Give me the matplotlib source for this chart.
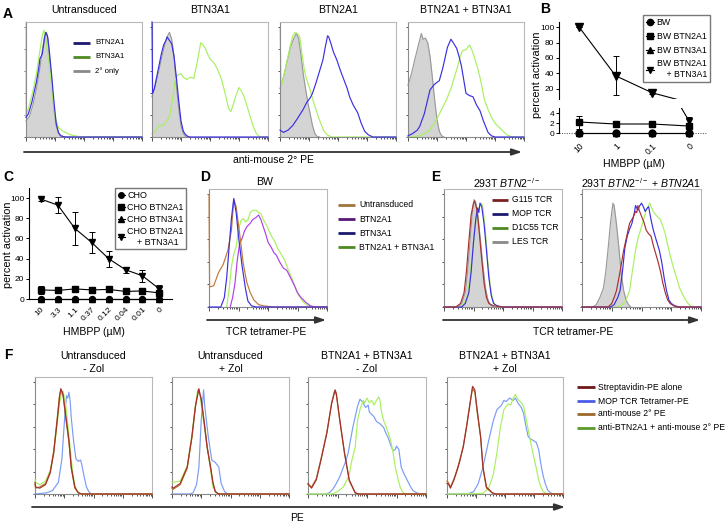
import matplotlib
matplotlib.use('Agg')
import matplotlib.pyplot as plt
import numpy as np
from matplotlib.lines import Line2D
from matplotlib.patches import FancyArrowPatch

plt.rcParams['font.family'] = ['Liberation Sans', 'DejaVu Sans']
plt.rcParams['mathtext.fontset'] = 'custom'
plt.rcParams['mathtext.rm'] = 'Liberation Sans'
plt.rcParams['mathtext.it'] = 'Liberation Sans:italic'

# ---------------- data: histogram curves (x: % of axis width, y: % of mode) ----------------
A1_2nd = [(0,14),(3,18),(6,28),(9,42),(12,60),(14,75),(16,88),(17.5,91),(19,85),(20,70),(22,50),(24,25),(26,10),(28,3),(30,1),(33,0),(100,0)]
A1_btn2a1 = [(0,17),(2,20),(5,30),(9,48),(11,60),(12,68),(14,72),(16,86),(17,91),(18.5,88),(20,76),(22,55),(24,32),(26,12),(28,4),(30,1),(34,0),(100,0)]
A1_btn3a1 = [(0,100),(0,18),(0.5,20),(3,28),(6,40),(9,55),(12,75),(14,88),(15.5,93),(17,85),(19,70),(21,55),(23,35),(25,18),(28,8),(32,5),(38,2),(45,0.5),(50,0),(100,0)]

A2_2nd = [(0,35),(3,45),(6,58),(9,72),(11,80),(13,87),(15,91),(17,85),(19,70),(21,45),(23,25),(25,10),(27,3),(29,0.5),(31,0)]
A2_btn2a1 = [(0,100),(0.5,38),(2,42),(4,52),(6,62),(8,72),(10,80),(12,84),(13,87),(15,84),(17,81),(19,70),(21,52),(23,32),(25,14),(27,5),(29,2),(31,0.5),(33,0),(100,0)]
A2_btn3a1 = [(0,3),(3,5),(6,10),(10,10),(14,16),(16,22),(18,35),(20,50),(22,54),(25,55),(27,52),(30,50),(33,52),(36,51),(39,65),(42,82),(44,80),(46,77),(48,72),(50,68),(53,65),(56,60),(60,50),(63,38),(66,25),(68,22),(70,28),(72,35),(75,43),(77,40),(79,36),(81,30),(84,20),(87,10),(90,3),(93,0),(100,0)]

A3_2nd = [(0,42),(3,52),(6,65),(9,78),(12,86),(14,90),(16,86),(18,72),(20,55),(22,42),(24,30),(26,20),(28,10),(30,3),(32,0.5),(34,0)]
A3_btn3a1 = [(0,94),(1,44),(3,52),(6,66),(9,80),(11,88),(13,91),(15,90),(17,87),(19,72),(21,58),(23,50),(26,41),(29,30),(32,21),(35,12),(38,5),(41,1.5),(45,0),(100,0)]
A3_btn2a1 = [(0,6),(3,4),(7,6),(11,10),(15,16),(20,24),(23,30),(26,34),(28,38),(31,47),(34,57),(37,67),(39,78),(41,88),(42,87),(44,81),(46,74),(49,67),(52,58),(55,50),(58,42),(60,35),(63,28),(67,21),(70,12),(73,5),(76,2),(80,0),(100,0)]

A4_2nd = [(0,45),(3,55),(6,68),(9,80),(11.5,90),(13,85),(15,86),(17,82),(19,70),(21,52),(23,32),(25,15),(27,5),(29,1),(31,0)]
A4_btn2a1 = [(0,1),(4,3),(8,6),(10,9),(14,20),(19,41),(23,46),(27,49),(30,60),(34,78),(37,85),(39,82),(42,77),(44,70),(46,62),(48,50),(50,38),(53,36),(56,35),(59,28),(62,23),(65,14),(69,4),(72,1),(75,0),(100,0)]
A4_btn3a1 = [(0,0),(10,1),(18,5),(24,14),(28,22),(33,32),(37,42),(40,52),(43,62),(45,70),(47,75),(50,76),(53,80),(55,76),(57,70),(60,60),(62,52),(64,42),(66,32),(69,24),(72,17),(75,12),(78,9),(82,5),(85,2),(90,0),(100,0)]

D_untr = [(0,95),(0.5,17),(4,18),(8,29),(12,36),(16,48),(19,65),(21,91),(23,85),(26,62),(29,37),(32,21),(35,12),(38,6),(42,2),(46,1),(55,0),(100,0)]
D_btn2a1 = [(18,0),(20,8),(22,20),(24,40),(26,54),(28,58),(30,64),(32,68),(35,71),(37,74),(40,76),(42,78),(44,74),(46,68),(48,62),(50,55),(53,50),(55,46),(57,44),(60,38),(63,33),(66,31),(69,25),(72,19),(75,12),(78,8),(82,4),(86,1),(90,0),(100,0)]
D_btn3a1 = [(0,0),(10,0),(13,8),(15,25),(17,50),(19,75),(21,92),(23,80),(25,60),(28,35),(31,15),(33,5),(36,1),(40,0),(100,0)]
D_both = [(15,0),(17,15),(19,34),(21,45),(23,51),(25,65),(27,73),(29,75),(31,72),(33,74),(35,80),(37,82),(40,82),(42,80),(44,79),(46,74),(49,69),(51,64),(53,60),(56,55),(58,50),(61,45),(64,40),(67,32),(70,25),(73,17),(76,10),(80,4),(84,1),(88,0),(100,0)]

E1_les = [(12,0),(15,3),(18,12),(20,30),(22,55),(24,80),(25.5,91),(27,88),(29,75),(31,55),(33,35),(35,17),(37,7),(39,2),(42,0)]
E1_g115 = [(0,0),(10,0),(14,3),(17,12),(19,30),(21,55),(23,78),(25,88),(26,90),(28,82),(30,62),(32,40),(34,20),(36,8),(38,3),(42,1),(50,0),(100,0)]
E1_mop = [(0,0),(15,0),(18,3),(21,12),(23,30),(25,55),(27,75),(28.5,84),(29.5,80),(30.5,88),(32,85),(34,70),(36,48),(38,25),(40,10),(42,3),(45,1),(50,0),(100,0)]
E1_d1c55 = [(0,0),(14,0),(17,3),(20,10),(22,25),(24,45),(26,65),(28,80),(30,85),(32,88),(33,84),(35,65),(37,40),(39,20),(41,7),(43,2),(46,0),(100,0)]

E2_les = [(9,0),(12,2),(15,8),(18,16),(20,30),(22,50),(24,72),(26,88),(27,86),(29,70),(31,50),(33,28),(35,14),(37,6),(39,2),(41,0)]
E2_g115 = [(0,0),(22,0),(25,3),(27,8),(29,14),(32,30),(35,48),(38,62),(40,71),(43,76),(45,81),(46,80),(47,86),(48,82),(50,77),(52,72),(54,65),(56,62),(58,60),(60,52),(62,45),(64,38),(66,30),(68,20),(70,12),(72,6),(74,3),(77,1),(80,0),(100,0)]
E2_mop = [(0,0),(24,0),(27,2),(30,8),(32,14),(34,30),(36,50),(38,60),(40,66),(42,71),(44,80),(45,86),(47,82),(48,85),(50,88),(52,84),(53,81),(55,84),(56,85),(58,74),(60,65),(62,58),(65,48),(67,38),(69,25),(71,14),(73,6),(75,3),(78,1),(82,0),(100,0)]
E2_d1c55 = [(0,0),(30,0),(34,2),(37,6),(40,14),(42,28),(45,48),(47,58),(50,68),(52,75),(54,82),(56,86),(57,88),(58,85),(60,81),(62,78),(64,76),(66,74),(68,68),(70,62),(71,57),(73,48),(75,40),(77,33),(80,23),(82,16),(84,12),(87,6),(90,2),(93,0),(100,0)]

F1_strep = [(0,10),(0.5,6),(4,5),(9,8),(13,18),(16,35),(19,63),(21,83),(22,90),(24,85),(26,69),(29,46),(31,23),(34,6),(37,1),(40,0),(100,0)]
F1_antim = [(0,8),(0.5,5),(4,6),(9,9),(13,19),(16,37),(19,65),(21,85),(22.5,89),(24,84),(26,67),(29,44),(31,22),(34,5),(37,1),(40,0),(100,0)]
F1_mop = [(0,0),(10,1),(15,3),(20,10),(23,30),(25,60),(26,75),(27,84),(28,82),(29,87),(30,80),(31,65),(33,45),(35,30),(37,28),(39,29),(40,25),(42,15),(44,6),(46,2),(48,0),(100,0)]
F1_btn = [(0,12),(0.5,10),(4,8),(9,11),(13,20),(16,35),(19,60),(21,78),(23,87),(24,88),(26,78),(28,60),(30,40),(32,20),(34,8),(36,2),(39,0),(100,0)]

F2_strep = [(0,6),(1,5),(7,9),(13,23),(17,49),(20,75),(23,90),(25,80),(28,57),(30,40),(33,23),(35,10),(37,2),(40,0),(100,0)]
F2_antim = [(0,5),(1,4),(7,8),(13,22),(17,48),(20,74),(22.5,89),(25,82),(28,58),(30,41),(33,22),(35,9),(37,2),(40,0),(100,0)]
F2_mop = [(0,0),(15,0),(18,1),(21,8),(23,23),(25,63),(27,89),(28,75),(31,49),(34,29),(37,27),(40,23),(42,9),(45,2),(47,0.5),(50,0),(100,0)]
F2_btn = [(0,10),(1,10),(7,11),(13,24),(17,50),(20,76),(22,89),(24,84),(27,62),(30,40),(33,20),(35,6),(38,1),(40,0),(100,0)]

F3_strep = [(0,9),(3,5),(7,12),(11,29),(16,52),(20,77),(23,89),(24,86),(27,63),(31,35),(35,12),(40,1),(43,0),(100,0)]
F3_antim = [(0,8),(3,6),(7,13),(11,30),(16,53),(20,78),(22.5,88),(24,85),(27,62),(31,34),(35,11),(40,1),(43,0),(100,0)]
F3_mop = [(0,0),(15,0),(18,1),(21,4),(24,9),(27,15),(30,23),(32,28),(34,35),(36,46),(38,57),(40,66),(42,75),(43,78),(44,81),(46,79),(47,78),(48,75),(49,74),(51,76),(52,70),(54,68),(56,66),(58,62),(61,60),(64,57),(66,52),(68,48),(70,42),(72,37),(74,38),(75,41),(77,38),(79,23),(81,18),(84,12),(87,6),(89,3),(92,1),(95,0),(100,0)]
F3_btn = [(0,0),(20,0),(25,2),(30,6),(33,12),(35,17),(37,28),(40,40),(41,52),(42,63),(44,72),(45,75),(47,80),(48,78),(50,82),(52,78),(54,80),(56,76),(58,80),(60,83),(61,80),(62,72),(64,63),(66,58),(68,52),(70,46),(72,36),(74,23),(76,14),(78,6),(80,2),(82,0),(100,0)]

F4_strep = [(0,9),(1,9),(3,5),(6,12),(9,21),(11,28),(14,40),(17,58),(20,78),(22,92),(24,89),(26,72),(29,49),(31,23),(34,6),(39,1),(42,0),(100,0)]
F4_antim = [(0,11),(1,10),(3,6),(6,13),(9,22),(11,29),(14,41),(17,59),(20,79),(22,90),(24,87),(26,70),(29,48),(31,22),(34,5),(39,1),(42,0),(100,0)]
F4_mop = [(0,0),(19,0.5),(23,2),(27,9),(31,23),(36,46),(40,63),(43,72),(47,76),(49,80),(51,79),(54,82),(57,80),(59,82),(61,78),(64,74),(66,69),(68,58),(70,49),(72,47),(74,46),(77,44),(79,38),(81,25),(83,15),(85,8),(87,3),(90,0.5),(93,0),(100,0)]
F4_btn = [(0,0),(31,0.5),(36,5),(40,17),(43,35),(46,57),(49,72),(51,75),(53,77),(55,76),(57,82),(59,85),(61,81),(64,78),(66,75),(68,65),(70,55),(72,45),(74,35),(77,22),(79,12),(81,6),(83,2),(86,0.5),(90,0),(100,0)]

# ---------------- data: activation assays ----------------
B_doses = ['10', '1', '0.1', '0']
B_bw = [0, 0, 0, 0]
B_2a1 = [2.2, 1.8, 1.8, 1.4]
B_2a1_err = [1.3, 0.2, 0.2, 0.3]
B_3a1 = [0.1, 0.1, 0.1, 0.1]
B_both = [100, 37, 15, 2.5]
B_both_err = [0, 25, 2, 0.8]

C_doses = ['10', '3.3', '1.1', '0.37', '0.12', '0.04', '0.01', '0']
C_cho = [0, 0, 0, 0, 0, 0, 0, 0]
C_2a1 = [9, 8.5, 10, 9, 9.5, 7.5, 8, 6]
C_2a1_err = [4, 0.5, 0.5, 0.5, 0.5, 0.5, 0.5, 0.5]
C_3a1 = [0.3, 0.3, 0.3, 0.3, 0.3, 0.3, 0.3, 0.3]
C_both = [99, 93, 70, 56, 40, 29, 23, 10]
C_both_err = [1.5, 8, 16, 10, 8, 3, 6, 4]

# ---------------- colours ----------------
BLUE = '#3b2fe0'
LIME = '#a8f060'
GRAYF = '#d4d4d4'
GRAYE = '#9a9a9a'
BROWN = '#c0783a'
PURPLE = '#b03ee8'
RED = '#a83232'
FRED = '#a0302a'
FBLUE = '#7a9cf5'
FBROWN = '#b87830'

W, H = 726, 525
fig = plt.figure(figsize=(W / 100, H / 100), dpi=100)


def ax_px(l, t, r, b):
    return fig.add_axes([l / W, 1 - b / H, (r - l) / W, (b - t) / H])


def ftext(x, y, s, **kw):
    kw.setdefault('ha', 'center')
    kw.setdefault('va', 'center')
    fig.text(x / W, 1 - y / H, s, **kw)


def hist_axes(l, t, r, b):
    ax = ax_px(l, t, r, b)
    ax.set_xlim(0, 100)
    ax.set_ylim(0, 100)
    for s in ax.spines.values():
        s.set_color('#b8b8b8')
        s.set_linewidth(0.8)
    ax.spines['left'].set_color('#8a8a8a')
    ax.spines['bottom'].set_color('#8a8a8a')
    major = [0, 25, 50, 75, 100]
    minor = [d * 25 + np.log10(k) * 25 for d in range(4) for k in range(2, 10)]
    ax.set_xticks(major)
    ax.set_xticks(minor, minor=True)
    ax.set_yticks(np.linspace(0, 95.7, 6))
    ax.tick_params(which='both', direction='out', width=0.6, colors='#333',
                   labelbottom=False, labelleft=False)
    ax.tick_params(axis='x', which='major', length=2.6)
    ax.tick_params(axis='x', which='minor', length=1.3)
    ax.tick_params(axis='y', length=1.8)
    return ax


def curve(ax, pts, color, fill=None, lw=0.85, z=2):
    x = [p[0] for p in pts]
    y = [p[1] for p in pts]
    if fill:
        ax.fill_between(x, y, 0, color=fill, lw=0, zorder=z - 0.5)
    ax.plot(x, y, color=color, lw=lw, zorder=z, clip_on=False)


def leg_line(x0, x1, y, color, lw=2.0):
    fig.add_artist(Line2D([x0 / W, x1 / W], [1 - y / H, 1 - y / H], color=color,
                          lw=lw, transform=fig.transFigure, solid_capstyle='butt'))


def hist_legend(x0, x1, xt, ys, labels, colors, fs):
    for y, lab, c in zip(ys, labels, colors):
        leg_line(x0, x1, y, c)
        ftext(xt, y, lab, ha='left', fontsize=fs)


def arrow(x0, x1, y):
    fig.add_artist(FancyArrowPatch((x0 / W, 1 - y / H), (x1 / W, 1 - y / H),
                                   transform=fig.transFigure,
                                   arrowstyle='-|>,head_length=0.6,head_width=0.2',
                                   mutation_scale=10, color='#333333', lw=1.3,
                                   shrinkA=0, shrinkB=0))


TFS = 7.6
LFS = 10
# ---------------- Panel A ----------------
ftext(8, 14, 'A', fontsize=LFS, fontweight='bold')
boxesA = [(26, 22, 142, 137), (152, 22, 268, 137), (280, 22, 396, 137), (408, 22, 524, 137)]
titlesA = ['Untransduced', 'BTN3A1', 'BTN2A1', 'BTN2A1 + BTN3A1']
dataA = [(A1_2nd, A1_btn2a1, A1_btn3a1), (A2_2nd, A2_btn2a1, A2_btn3a1),
         (A3_2nd, A3_btn2a1, A3_btn3a1), (A4_2nd, A4_btn2a1, A4_btn3a1)]
for (l, t, r, b), title, (g, bl, gr) in zip(boxesA, titlesA, dataA):
    ax = hist_axes(l, t, r, b)
    curve(ax, g, GRAYE, fill=GRAYF, z=1)
    curve(ax, gr, LIME, z=2)
    curve(ax, bl, BLUE, z=3)
    ftext((l + r) / 2, 10, title, fontsize=TFS)
hist_legend(73, 90, 95, [43, 57, 71], ['BTN2A1', 'BTN3A1', '2° only'],
            ['#1c1870', '#4e8a22', '#8a8a8a'], 5.6)
arrow(24, 522, 152)
ftext(273, 160, 'anti-mouse 2° PE', fontsize=7.5)

# ---------------- Panel B ----------------
ftext(545, 9, 'B', fontsize=LFS, fontweight='bold')
ax_b1 = ax_px(559, 22, 707, 99)
ax_b2 = ax_px(559, 108, 707, 133)
xb = np.arange(len(B_doses))
for ax in (ax_b1, ax_b2):
    ax.set_xlim(-0.55, 3.5)
    for s in ('top', 'right', 'bottom'):
        ax.spines[s].set_visible(False)
    ax.spines['left'].set_linewidth(0.8)
    ax.tick_params(axis='y', labelsize=6.0, length=2.5, width=0.7, pad=1)
    ax.patch.set_alpha(0)
ax_b1.set_ylim(7, 106.5)
ax_b1.set_yticks([20, 40, 60, 80, 100])
ax_b1.set_xticks([])
ax_b2.set_ylim(0, 5)
ax_b2.set_yticks([0, 2, 4])
ax_b2.axhline(0, color='#444', lw=0.7, ls=(0, (1, 1.5)), clip_on=False)
ax_b2.set_xticks(xb)
ax_b2.set_xticklabels(B_doses, rotation=45, ha='right', va='top', rotation_mode='anchor', fontsize=6.2)
ax_b2.tick_params(axis='x', length=0, pad=6)

MS = 5
ekw = dict(color='k', lw=0.8, capsize=2.5, elinewidth=0.7, capthick=0.7)
# upper part: the high series only (line through all doses, markers where in range)
ax_b1.plot(xb, B_both, color='k', lw=0.8)
ax_b1.errorbar(xb[:3], B_both[:3], yerr=B_both_err[:3], fmt='v', ms=MS + 0.5, **ekw)
# lower part
for vals, err, mk, clip in [(B_bw, None, 'o', False), (B_3a1, None, '^', False),
                            (B_2a1, B_2a1_err, 's', False), (B_both, B_both_err, 'v', True)]:
    e = ax_b2.errorbar(xb, vals, yerr=err, marker=mk, ms=MS, **ekw)
    for art in e.lines[0:1] + tuple(e.lines[1]) + tuple(e.lines[2]):
        art.set_clip_on(clip)
hb = [Line2D([], [], color='k', lw=0.8, marker=m, ms=4.5) for m in ['o', 's', '^', 'v']]
ax_b1.legend(hb, ['BW', 'BW BTN2A1', 'BW BTN3A1', 'BW BTN2A1\n    + BTN3A1'],
             loc='upper left', bbox_to_anchor=(643 / W, 1 - 15 / H), bbox_transform=fig.transFigure,
             borderaxespad=0, fontsize=6.3, handlelength=0.9, handletextpad=0.3, borderpad=0.35,
             labelspacing=0.55, frameon=True, fancybox=False, edgecolor='#777777', framealpha=1)
ftext(537, 75, 'percent activation', rotation=90, fontsize=7.8)
ftext(634, 164, 'HMBPP (µM)', fontsize=7.6)

# ---------------- Panel C ----------------
ftext(8, 177, 'C', fontsize=LFS, fontweight='bold')
ax_c = ax_px(29, 188, 172, 299)
xc = np.arange(len(C_doses))
ax_c.set_xlim(-0.71, 7.75)
ax_c.set_ylim(0, 110)
for s in ('top', 'right'):
    ax_c.spines[s].set_visible(False)
ax_c.spines['left'].set_linewidth(0.8)
ax_c.spines['bottom'].set_linewidth(0.8)
ax_c.set_yticks([0, 20, 40, 60, 80, 100])
ax_c.tick_params(axis='y', labelsize=6.0, length=2.5, width=0.7, pad=1)
ax_c.set_xticks(xc)
ax_c.set_xticklabels(C_doses, rotation=45, ha='right', va='top', rotation_mode='anchor', fontsize=6.0)
ax_c.tick_params(axis='x', length=0, pad=5)
ekc = dict(color='k', lw=0.8, capsize=2.3, elinewidth=0.7, capthick=0.7, clip_on=False)
for vals, err, mk in [(C_cho, None, 'o'), (C_3a1, None, '^'), (C_2a1, C_2a1_err, 's'), (C_both, C_both_err, 'v')]:
    ax_c.errorbar(xc, vals, yerr=err, marker=mk, ms=4.3, **ekc)
hc = [Line2D([], [], color='k', lw=0.8, marker=m, ms=4.0) for m in ['o', 's', '^', 'v']]
ax_c.legend(hc, ['CHO', 'CHO BTN2A1', 'CHO BTN3A1', 'CHO BTN2A1\n    + BTN3A1'],
            loc='upper left', bbox_to_anchor=(115 / W, 1 - 188 / H), bbox_transform=fig.transFigure,
            borderaxespad=0, fontsize=6.5, handlelength=0.8, handletextpad=0.25, borderpad=0.3,
            labelspacing=0.35, frameon=True, fancybox=False, edgecolor='#777777', framealpha=1)
ftext(8, 245, 'percent activation', rotation=90, fontsize=7.8)
ftext(94, 332, 'HMBPP (µM)', fontsize=7.6)

# ---------------- Panel D ----------------
ftext(205, 177, 'D', fontsize=LFS, fontweight='bold')
ax_d = hist_axes(209, 189, 327, 307)
curve(ax_d, D_both, LIME, z=2)
curve(ax_d, D_btn2a1, PURPLE, z=3)
curve(ax_d, D_untr, BROWN, z=4)
curve(ax_d, D_btn3a1, BLUE, z=5)
ftext(265, 182, 'BW', fontsize=TFS)
hist_legend(338, 355, 359, [205, 219, 233, 247],
            ['Untransduced', 'BTN2A1', 'BTN3A1', 'BTN2A1 + BTN3A1'],
            ['#a0743a', '#5a1875', '#1c1870', '#4e8a22'], 6.2)
arrow(207, 326, 320)
ftext(266, 332, 'TCR tetramer-PE', fontsize=7.5)

# ---------------- Panel E ----------------
ftext(436, 177, 'E', fontsize=LFS, fontweight='bold')
ax_e1 = hist_axes(444, 189, 562, 307)
curve(ax_e1, E1_les, GRAYE, fill=GRAYF, z=1)
curve(ax_e1, E1_d1c55, LIME, z=2)
curve(ax_e1, E1_mop, BLUE, z=3)
curve(ax_e1, E1_g115, RED, z=4)
ax_e2 = hist_axes(582, 189, 701, 307)
curve(ax_e2, E2_les, GRAYE, fill=GRAYF, z=1)
curve(ax_e2, E2_d1c55, LIME, z=2)
curve(ax_e2, E2_mop, BLUE, z=3)
curve(ax_e2, E2_g115, RED, z=4)
ftext(507, 183, r'293T $\mathit{BTN2}^{-/-}$', fontsize=TFS)
ftext(641, 183, r'293T $\mathit{BTN2}^{-/-}$ + $\mathit{BTN2A1}$', fontsize=TFS)
hist_legend(492, 508, 512, [200, 214, 228, 242],
            ['G115 TCR', 'MOP TCR', 'D1C55 TCR', 'LES TCR'],
            ['#7a2020', '#1c1870', '#4e8a22', '#8a8a8a'], 6.2)
arrow(443, 700, 320)
ftext(573, 332, 'TCR tetramer-PE', fontsize=7.5)

# ---------------- Panel F ----------------
ftext(8, 355, 'F', fontsize=LFS, fontweight='bold')
boxesF = [(35, 377, 152, 494), (172, 377, 289, 494), (308, 377, 426, 494), (447, 377, 563, 494)]
titlesF = [('Untransduced', '- Zol'), ('Untransduced', '+ Zol'),
           ('BTN2A1 + BTN3A1', '- Zol'), ('BTN2A1 + BTN3A1', '+ Zol')]
dataF = [(F1_strep, F1_mop, F1_antim, F1_btn), (F2_strep, F2_mop, F2_antim, F2_btn),
         (F3_strep, F3_mop, F3_antim, F3_btn), (F4_strep, F4_mop, F4_antim, F4_btn)]
for (l, t, r, b), (t1, t2), (st, mo, am, bt) in zip(boxesF, titlesF, dataF):
    ax = hist_axes(l, t, r, b)
    curve(ax, mo, FBLUE, z=2)
    curve(ax, bt, LIME, z=3)
    curve(ax, am, FBROWN, z=4)
    curve(ax, st, FRED, z=5)
    ftext((l + r) / 2, 356, t1, fontsize=TFS)
    ftext((l + r) / 2, 369, t2, fontsize=TFS)
hist_legend(577, 595, 598, [387, 401, 414, 428],
            ['Streptavidin-PE alone', 'MOP TCR Tetramer-PE', 'anti-mouse 2° PE',
             'anti-BTN2A1 + anti-mouse 2° PE'],
            ['#6e1a1a', '#4b5de6', '#9a6a2a', '#5a9a2a'], 6.2)
arrow(32, 565, 507)
ftext(297, 518, 'PE', fontsize=7.5)

fig.savefig('out.png', dpi=100)
